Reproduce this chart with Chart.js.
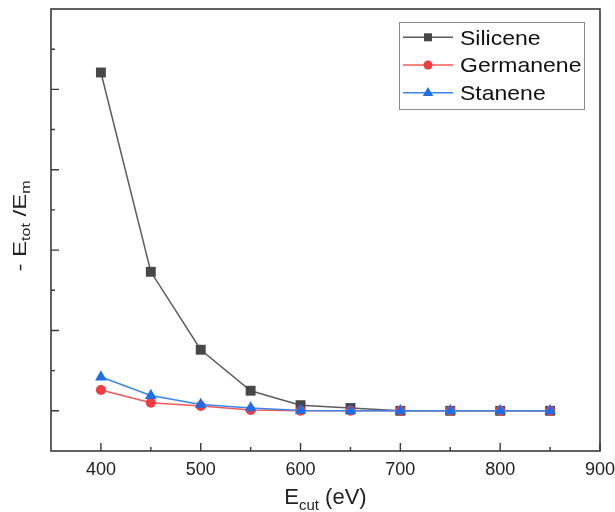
<!DOCTYPE html>
<html>
<head>
<meta charset="utf-8">
<script src="https://cdn.jsdelivr.net/npm/chart.js@4/dist/chart.umd.min.js"></script>
<style>
  html, body { margin: 0; padding: 0; background: #fff; }
  #wrap { width: 615px; height: 512px; }
</style>
</head>
<body>
<div id="wrap"><canvas id="myChart" width="615" height="512"></canvas></div>
<script>
// cutoff energies (eV)
const cutoffs = [400, 450, 500, 550, 600, 650, 700, 750, 800, 850];

// -Etot/Em for each material, arbitrary units
const silicene  = [4.21, 1.73, 0.76, 0.25, 0.07, 0.035, 0.0, 0.0, 0.0, 0.0];
const germanene = [0.26, 0.10, 0.06, 0.01, 0.0, 0.0, 0.0, 0.0, 0.0, 0.0];
const stanene   = [0.42, 0.19, 0.08, 0.035, 0.005, 0.0, 0.0, 0.0, 0.0, 0.0];

const names = ['Silicene', 'Germanene', 'Stanene'];

const xTicksMajor = [400, 500, 600, 700, 800, 900];
const xTicksMinor = [450, 550, 650, 750, 850];
const yTicksMajor = [0, 1, 2, 3, 4];
const yTicksMinor = [0.5, 1.5, 2.5, 3.5, 4.5];

const FONT = '"Liberation Sans", Arial, sans-serif';
const AXIS = '#3a3a3a';

function points(vals) {
    return cutoffs.map((x, i) => ({ x: x, y: vals[i] }));
}

// small markers for the legend rows
function marker(ctx, style, x, y, fill) {
    ctx.save();
    ctx.fillStyle = fill;
    ctx.beginPath();
    if (style === 'rect') {
        ctx.rect(x - 4, y - 4, 8, 8);
    } else if (style === 'circle') {
        ctx.arc(x, y, 4.5, 0, Math.PI * 2);
    } else {
        ctx.moveTo(x, y - 5.8);
        ctx.lineTo(x + 5.2, y + 3.2);
        ctx.lineTo(x - 5.2, y + 3.2);
        ctx.closePath();
    }
    ctx.fill();
    ctx.restore();
}

// text with subscript pieces: [[text, isSub], ...]
function richText(ctx, parts, size) {
    const sub = Math.round(size * 0.66);
    let w = 0;
    parts.forEach(p => {
        ctx.font = (p[1] ? sub : size) + 'px ' + FONT;
        w += ctx.measureText(p[0]).width;
    });
    return {
        width: w,
        draw(x, y) {
            let cx = x;
            parts.forEach(p => {
                ctx.font = (p[1] ? sub : size) + 'px ' + FONT;
                ctx.fillText(p[0], cx, p[1] ? y + size * 0.25 : y);
                cx += ctx.measureText(p[0]).width;
            });
        }
    };
}

const framePlugin = {
    id: 'frame',
    afterDraw(chart) {
        const ctx = chart.ctx;
        const a = chart.chartArea;
        const xs = chart.scales.x;
        const ys = chart.scales.y;
        ctx.save();

        // box around the plot
        ctx.strokeStyle = AXIS;
        ctx.lineWidth = 1.6;
        ctx.strokeRect(a.left, a.top, a.right - a.left, a.bottom - a.top);

        // inward ticks
        ctx.lineWidth = 1.4;
        ctx.beginPath();
        xTicksMajor.forEach(v => { const px = xs.getPixelForValue(v); ctx.moveTo(px, a.bottom); ctx.lineTo(px, a.bottom - 8); });
        xTicksMinor.forEach(v => { const px = xs.getPixelForValue(v); ctx.moveTo(px, a.bottom); ctx.lineTo(px, a.bottom - 4); });
        yTicksMajor.forEach(v => { const py = ys.getPixelForValue(v); ctx.moveTo(a.left, py); ctx.lineTo(a.left + 8, py); });
        yTicksMinor.forEach(v => { const py = ys.getPixelForValue(v); ctx.moveTo(a.left, py); ctx.lineTo(a.left + 4, py); });
        ctx.stroke();

        // x tick labels
        ctx.fillStyle = '#222';
        ctx.font = '18px ' + FONT;
        ctx.textAlign = 'center';
        ctx.textBaseline = 'alphabetic';
        xTicksMajor.forEach(v => ctx.fillText(String(v), xs.getPixelForValue(v), 474.5));

        // axis titles
        ctx.textAlign = 'left';
        const xt = richText(ctx, [['E', false], ['cut', true], [' (eV)', false]], 22);
        xt.draw((a.left + a.right) / 2 - xt.width / 2, 504);

        ctx.save();
        ctx.translate(25.5, (a.top + a.bottom) / 2 - 4);
        ctx.rotate(-Math.PI / 2);
        ctx.scale(1, 0.8);
        const yt = richText(ctx, [['- E', false], ['tot', true], [' /E', false], ['m', true]], 24);
        yt.draw(-yt.width / 2, 0);
        ctx.restore();

        // legend
        const lx = 399, ly = 22, lw = 185, lh = 87;
        ctx.fillStyle = '#fff';
        ctx.fillRect(lx, ly, lw, lh);
        ctx.strokeStyle = '#8a8a8a';
        ctx.lineWidth = 1;
        ctx.strokeRect(lx + 0.5, ly + 0.5, lw, lh);
        chart.data.datasets.forEach((ds, i) => {
            const ry = 37.3 + i * 27.7;
            ctx.strokeStyle = ds.borderColor;
            ctx.lineWidth = 1.5;
            ctx.beginPath();
            ctx.moveTo(403, ry);
            ctx.lineTo(453, ry);
            ctx.stroke();
            marker(ctx, ds.pointStyle, 428, ry, ds.pointBackgroundColor);
            ctx.save();
            ctx.translate(460, ry + 7.3);
            ctx.scale(1, 0.86);
            ctx.fillStyle = '#111';
            ctx.font = '23px ' + FONT;
            ctx.fillText(ds.label, 0, 0);
            ctx.restore();
        });

        ctx.restore();
    }
};

const ctx = document.getElementById('myChart').getContext('2d');

const data = {
    datasets: [{
        label: names[0],
        data: points(silicene),
        borderColor: '#5c5c5c',
        borderWidth: 1.5,
        pointStyle: 'rect',
        pointRadius: 7,
        pointBackgroundColor: '#474747',
        pointBorderColor: '#474747',
        pointBorderWidth: 0,
        order: 3
    }, {
        label: names[1],
        data: points(germanene),
        borderColor: '#f45a5a',
        borderWidth: 1.5,
        pointStyle: 'circle',
        pointRadius: 5,
        pointBackgroundColor: '#f03d42',
        pointBorderColor: '#f03d42',
        pointBorderWidth: 0,
        order: 2
    }, {
        label: names[2],
        data: points(stanene),
        borderColor: '#3b86ee',
        borderWidth: 1.5,
        pointStyle: 'triangle',
        pointRadius: 6.7,
        pointBackgroundColor: '#1f6ee3',
        pointBorderColor: '#1f6ee3',
        pointBorderWidth: 0,
        order: 1
    }]
};

const config = {
    type: 'line',
    data: data,
    plugins: [framePlugin],
    options: {
        responsive: false,
        animation: false,
        layout: { padding: { left: 51, right: 15, top: 9, bottom: 61 } },
        plugins: {
            legend: { display: false },
            tooltip: { enabled: false }
        },
        scales: {
            x: { type: 'linear', min: 350, max: 900, display: false },
            y: { type: 'linear', min: -0.5, max: 5, display: false }
        }
    }
};

const myChart = new Chart(ctx, config);
</script>
</body>
</html>
